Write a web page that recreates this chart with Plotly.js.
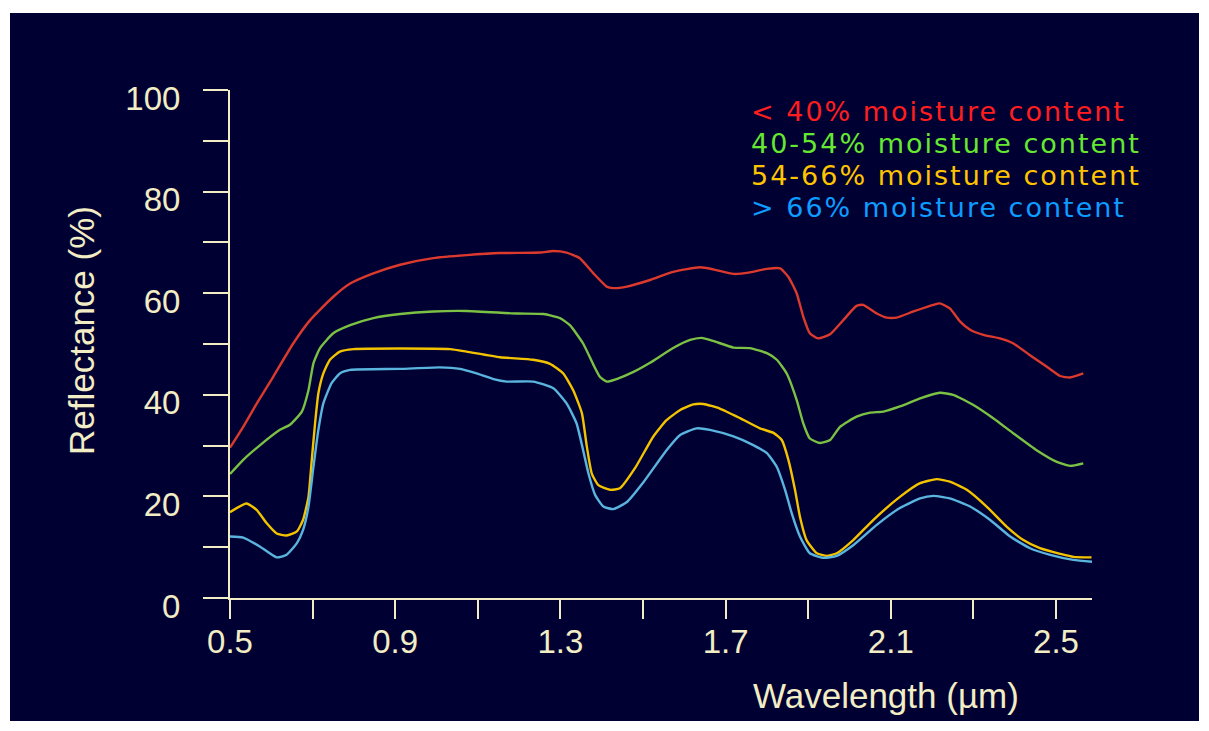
<!DOCTYPE html>
<html>
<head>
<meta charset="utf-8">
<script src="https://cdn.plot.ly/plotly-3.0.1.min.js"></script>
<style>
  html, body { margin: 0; padding: 0; background: #ffffff; width: 1209px; height: 731px; overflow: hidden; }
  #chart { position: absolute; left: 10px; top: 13px; width: 1189px; height: 708px; }
</style>
</head>
<body>
<div id="chart"></div>
<script>
// ---- Data (wavelength in micrometres, reflectance in %) ----
const seriesNames = [
  "< 40% moisture content",
  "40-54% moisture content",
  "54-66% moisture content",
  "> 66% moisture content"
];

const redX = [0.500,0.532,0.565,0.605,0.653,0.694,0.750,0.791,0.847,0.912,0.992,1.073,1.154,1.251,1.283,1.315,1.347,1.380,1.412,1.427,1.461,1.517,1.573,1.638,1.670,1.719,1.759,1.800,1.832,1.852,1.872,1.888,1.904,1.924,1.953,1.985,2.017,2.033,2.066,2.090,2.114,2.155,2.203,2.219,2.243,2.268,2.292,2.324,2.364,2.397,2.437,2.478,2.510,2.534,2.566];
const redY = [29.6,33.7,38.3,43.6,50.1,54.7,59.3,61.9,63.9,65.6,66.9,67.5,67.9,68.0,68.3,68.0,66.9,63.9,61.3,61.0,61.3,62.6,64.2,65.1,64.7,63.8,64.1,64.8,64.9,63.2,60.0,55.4,52.1,51.1,51.9,54.7,57.5,57.7,56.0,55.2,55.2,56.4,57.7,58.0,57.0,54.4,52.8,51.8,51.1,50.1,47.8,45.5,43.7,43.4,44.2];

const greenX = [0.500,0.532,0.573,0.621,0.645,0.674,0.690,0.702,0.718,0.750,0.791,0.847,0.912,0.992,1.073,1.194,1.259,1.299,1.323,1.355,1.380,1.396,1.413,1.436,1.477,1.517,1.573,1.614,1.642,1.670,1.719,1.759,1.800,1.824,1.848,1.872,1.888,1.904,1.929,1.953,1.977,2.017,2.050,2.082,2.122,2.171,2.219,2.251,2.300,2.348,2.397,2.453,2.502,2.534,2.566];
const greenY = [24.4,27.2,30.1,33.1,34.1,36.7,40.9,46.2,49.2,52.1,53.7,55.1,55.9,56.4,56.5,56.0,55.9,55.1,53.7,50.1,45.9,43.5,42.6,43.1,44.5,46.3,49.2,50.8,51.2,50.6,49.3,49.2,48.2,46.9,44.2,39.0,34.4,31.4,30.5,31.1,33.7,35.7,36.5,36.7,37.7,39.3,40.4,40.0,38.0,35.4,32.4,29.1,26.8,26.0,26.5];

const yellowX = [0.500,0.540,0.565,0.589,0.613,0.637,0.662,0.677,0.690,0.698,0.706,0.714,0.726,0.742,0.766,0.799,1.033,1.073,1.154,1.234,1.275,1.307,1.331,1.352,1.364,1.376,1.392,1.420,1.444,1.481,1.525,1.557,1.590,1.622,1.646,1.686,1.735,1.783,1.816,1.836,1.852,1.868,1.880,1.896,1.921,1.945,1.969,2.009,2.058,2.122,2.171,2.211,2.243,2.284,2.332,2.381,2.421,2.461,2.510,2.542,2.586];
const yellowY = [16.9,18.6,17.3,14.7,12.7,12.3,13.1,15.4,19.9,27.2,34.4,40.3,44.2,46.9,48.5,49.0,49.0,48.5,47.4,46.9,46.1,44.2,40.9,36.4,29.8,24.5,22.2,21.3,21.6,25.6,31.8,35.0,37.0,38.1,38.2,37.3,35.4,33.4,32.5,31.1,27.2,21.3,16.0,11.4,8.8,8.3,8.8,11.4,15.4,19.9,22.6,23.4,22.9,21.3,18.0,14.0,11.4,9.8,8.7,8.1,8.0];

const blueX = [0.500,0.532,0.573,0.613,0.637,0.662,0.677,0.690,0.702,0.714,0.726,0.746,0.766,0.791,0.912,1.008,1.057,1.097,1.138,1.170,1.234,1.283,1.315,1.339,1.355,1.368,1.384,1.404,1.428,1.461,1.501,1.557,1.590,1.630,1.662,1.719,1.767,1.800,1.824,1.844,1.860,1.880,1.904,1.937,1.969,2.009,2.066,2.122,2.171,2.203,2.243,2.292,2.340,2.389,2.437,2.486,2.542,2.594];
const blueY = [12.1,11.9,10.1,8.0,8.5,10.8,13.4,18.0,25.8,33.1,38.3,42.3,44.2,44.9,45.1,45.4,45.1,44.2,43.1,42.6,42.6,41.3,38.3,34.4,29.1,24.5,20.3,18.0,17.5,18.9,22.8,29.1,32.1,33.4,33.1,31.8,30.1,28.5,25.8,21.3,16.7,12.1,8.8,7.9,8.3,10.4,14.4,17.7,19.6,20.1,19.6,18.0,15.4,12.1,9.8,8.5,7.5,7.1];

const xTickLabels = ["0.5","0.9","1.3","1.7","2.1","2.5"];
const xMinorTicks = [0.7, 1.1, 1.5, 1.9, 2.3];
const yTickLabels = ["0","20","40","60","80","100"];
const yMinorTicks = [10, 30, 50, 70, 90];

// ---- Styling ----
const bg = "#000033";
const axisCol = "#f2edc4";
const lineCols = ["#dc3a2c", "#7bc143", "#f3c300", "#5ab5de"];
const textCols = ["#ff1e1e", "#66e830", "#ffc400", "#0d9cff"];
const sansFont = "Liberation Sans, Arial, sans-serif";

const xs = [redX, greenX, yellowX, blueX];
const ys = [redY, greenY, yellowY, blueY];

const traces = xs.map((x, i) => ({
  type: "scatter",
  mode: "lines",
  x: x,
  y: ys[i],
  name: seriesNames[i],
  line: { color: lineCols[i], width: 2.4, shape: "spline", smoothing: 0.5 },
  hoverinfo: "skip"
}));

// plot area in page pixels: x 230..1092, y 90..598 (div offset 10,13)
const PX0 = 230, PX1 = 1092, PY0 = 90, PY1 = 598;
const pxToPaperX = p => (p - PX0) / (PX1 - PX0);
const pyToPaperY = p => (PY1 - p) / (PY1 - PY0);

// coloured legend block: one text, line spacing 1.3 x base size (~32 px)
const esc = s => s.replace(/&/g, "&amp;").replace(/</g, "&lt;").replace(/>/g, "&gt;");
const legendText = seriesNames
  .map((t, i) => `<span style="font-size:27px;letter-spacing:2px;color:${textCols[i]}">${esc(t)}</span>`)
  .join("<br>");

const annotations = [{
  xref: "paper", yref: "paper",
  x: pxToPaperX(749), y: pyToPaperY(159),
  xanchor: "left", yanchor: "middle", align: "left",
  text: legendText, showarrow: false,
  font: { family: "DejaVu Sans", size: 24.6, color: textCols[0] }
}, {
  xref: "paper", yref: "paper",
  x: pxToPaperX(886), y: pyToPaperY(695),
  xanchor: "center", yanchor: "middle",
  text: "Wavelength (\u00b5m)", showarrow: false,
  font: { family: sansFont, size: 35, color: axisCol }
}, {
  xref: "paper", yref: "paper",
  x: pxToPaperX(81), y: pyToPaperY(331),
  xanchor: "center", yanchor: "middle", textangle: -90,
  text: "Reflectance (%)", showarrow: false,
  font: { family: sansFont, size: 35, color: axisCol }
}];

const xRangeEnd = 0.5 + (PX1 - PX0) / 413;

const layout = {
  width: 1189, height: 708,
  margin: { l: PX0 - 10, r: 1199 - PX1, t: PY0 - 13, b: 721 - PY1, pad: 0 },
  paper_bgcolor: bg, plot_bgcolor: bg,
  showlegend: false,
  font: { family: sansFont, color: axisCol },
  xaxis: {
    range: [0.5, xRangeEnd],
    tickmode: "array",
    tickvals: xTickLabels.map(Number),
    ticktext: xTickLabels,
    ticks: "outside", ticklen: 19, tickwidth: 2, tickcolor: axisCol,
    minor: { tickmode: "array", tickvals: xMinorTicks, ticks: "outside", ticklen: 19, tickwidth: 2, tickcolor: axisCol, showgrid: false },
    showline: true, linecolor: axisCol, linewidth: 2,
    showgrid: false, zeroline: false,
    tickfont: { family: sansFont, size: 33, color: axisCol },
    ticklabelstandoff: -6,
    fixedrange: true
  },
  yaxis: {
    range: [0, 100],
    tickmode: "array",
    tickvals: yTickLabels.map(Number),
    ticktext: yTickLabels,
    ticks: "outside", ticklen: 25, tickwidth: 2, tickcolor: axisCol,
    minor: { tickmode: "array", tickvals: yMinorTicks, ticks: "outside", ticklen: 25, tickwidth: 2, tickcolor: axisCol, showgrid: false },
    showline: true, linecolor: axisCol, linewidth: 2,
    showgrid: false, zeroline: false,
    tickfont: { family: sansFont, size: 33, color: axisCol },
    ticklabelstandoff: 16,
    ticklabelshift: 8,
    fixedrange: true
  },
  annotations: annotations
};

Plotly.newPlot("chart", traces, layout, { staticPlot: true, displayModeBar: false });
</script>
</body>
</html>
